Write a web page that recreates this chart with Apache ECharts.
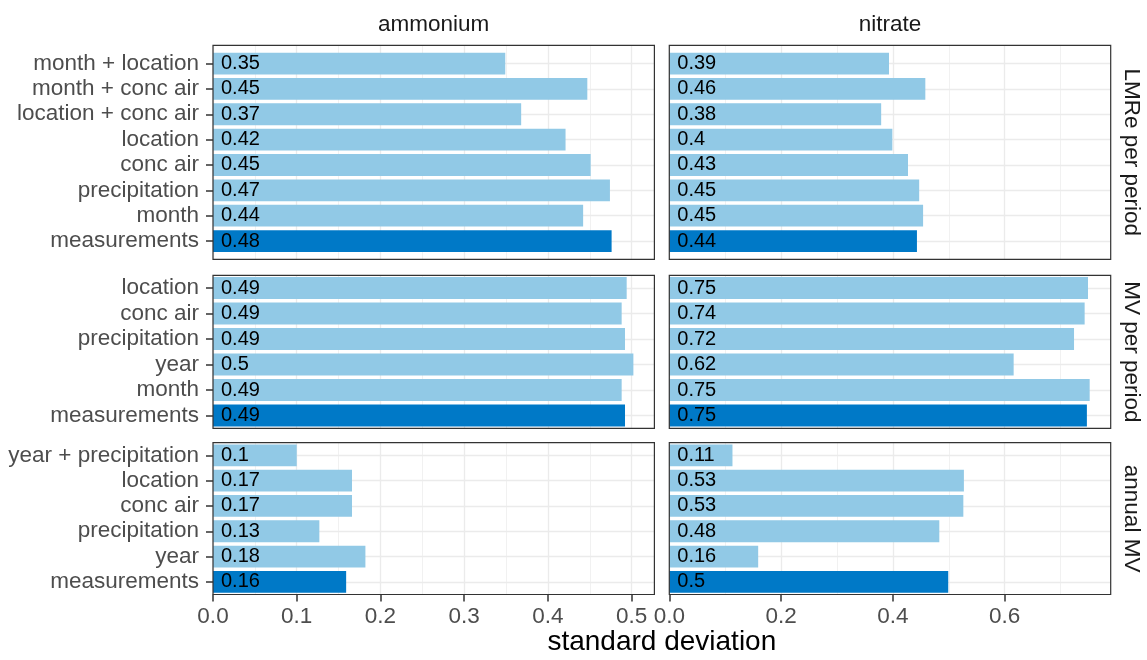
<!DOCTYPE html>
<html><head><meta charset="utf-8">
<script src="https://cdn.jsdelivr.net/npm/echarts@6/dist/echarts.min.js"></script>
<style>html,body{margin:0;padding:0;background:#fff}#c{width:1147px;height:660px}</style>
</head><body><div id="c"></div>
<script>
// ---- data ----
const columns = ['ammonium', 'nitrate'];
const rowNames = ['LMRe per period', 'MV per period', 'annual MV'];
const catsLMRe = ['month + location', 'month + conc air', 'location + conc air', 'location', 'conc air', 'precipitation', 'month', 'measurements'];
const catsMVperiod = ['location', 'conc air', 'precipitation', 'year', 'month', 'measurements'];
const catsAnnual = ['year + precipitation', 'location', 'conc air', 'precipitation', 'year', 'measurements'];
const ammoniumLMRe = [0.349, 0.447, 0.368, 0.421, 0.451, 0.474, 0.442, 0.476];
const nitrateLMRe = [0.393, 0.458, 0.379, 0.399, 0.427, 0.447, 0.454, 0.443];
const ammoniumMVperiod = [0.494, 0.488, 0.492, 0.502, 0.488, 0.492];
const nitrateMVperiod = [0.749, 0.743, 0.724, 0.616, 0.752, 0.747];
const ammoniumAnnual = [0.1, 0.166, 0.166, 0.127, 0.182, 0.159];
const nitrateAnnual = [0.113, 0.527, 0.526, 0.483, 0.159, 0.499];
const xTicksAmmonium = [0, 0.1, 0.2, 0.3, 0.4, 0.5];
const xTicksNitrate = [0, 0.2, 0.4, 0.6];
const referenceCategory = 'measurements';
const xTitle = 'standard deviation';

// ---- layout / style ----
const FONT = '"Liberation Sans", Arial, Helvetica, sans-serif';
const LIGHT = '#91C9E6', DARK = '#0079C7';
const GRID_COL = '#EBEBEB';
const colLeft = [213, 669.3], colWidth = 441.4;
const rowTop = [45.3, 275.3, 442.7], rowHeight = [214, 153, 151.8];
const rowPad = [0.72, 0.5, 0.5];
const BAR_FRAC = 0.86;

const rowCats = [catsLMRe, catsMVperiod, catsAnnual];
const panelData = [
  [ammoniumLMRe, nitrateLMRe],
  [ammoniumMVperiod, nitrateMVperiod],
  [ammoniumAnnual, nitrateAnnual]
];
const colTicks = [xTicksAmmonium, xTicksNitrate];
const colStep = [0.1, 0.2];
const colMax = [0, 1].map(c => Math.max(...panelData.flatMap(r => r[c])) * 1.05);

const grid = [], xAxis = [], yAxis = [], series = [];
for (let r = 0; r < 3; r++) {
  const cats = rowCats[r];
  const idxs = cats.map((_, i) => i);
  for (let c = 0; c < 2; c++) {
    const gi = r * 2 + c;
    const bottomRow = r === 2;
    grid.push({
      left: colLeft[c], top: rowTop[r], width: colWidth, height: rowHeight[r],
      show: true, borderColor: '#333333', borderWidth: 1.2, backgroundColor: 'transparent', z: 5
    });
    xAxis.push({
      gridIndex: gi, type: 'value', position: 'bottom', min: 0, max: colMax[c], interval: colStep[c],
      axisLine: { show: false, onZero: false },
      axisTick: { show: bottomRow, inside: false, length: 7, lineStyle: { color: '#333333', width: 1.5 }, customValues: colTicks[c] },
      axisLabel: { show: bottomRow, customValues: colTicks[c], margin: 11, color: '#4D4D4D', fontSize: 22.5, fontFamily: FONT,
        formatter: v => v.toFixed(1) },
      splitLine: { show: true, lineStyle: { color: GRID_COL, width: 1.3 } },
      minorTick: { show: false, splitNumber: 2 },
      minorSplitLine: { show: true, lineStyle: { color: GRID_COL, width: 0.7 } }
    });
    yAxis.push({
      gridIndex: gi, type: 'value', position: 'left', inverse: true, min: -rowPad[r], max: cats.length - 1 + rowPad[r],
      axisLine: { show: false, onZero: false },
      axisTick: { show: c === 0, inside: false, length: 7, lineStyle: { color: '#333333', width: 1.5 }, customValues: idxs },
      axisLabel: { show: c === 0, customValues: idxs, margin: 14, color: '#4D4D4D', fontSize: 22.5, fontFamily: FONT,
        formatter: v => cats[Math.round(v)] },
      splitLine: { show: true, lineStyle: { color: GRID_COL, width: 1.3 } }
    });
    series.push({
      type: 'custom', xAxisIndex: gi, yAxisIndex: gi, clip: false, z: 2,
      data: panelData[r][c].map((v, i) => [v, i]),
      renderItem: (params, api) => {
        const v = api.value(0), i = api.value(1);
        const p0 = api.coord([0, i]);
        const p1 = api.coord([v, i]);
        const h = api.size([0, 1])[1] * BAR_FRAC;
        const color = cats[i] === referenceCategory ? DARK : LIGHT;
        return {
          type: 'group',
          children: [
            { type: 'rect', shape: { x: p0[0], y: p0[1] - h / 2, width: p1[0] - p0[0], height: h }, style: { fill: color } },
            { type: 'text', style: { text: String(Math.round(v * 100) / 100), x: p0[0] + 8, y: p0[1],
                verticalAlign: 'middle', align: 'left', fill: '#000', font: '20px ' + FONT } }
          ]
        };
      }
    });
  }
}

const graphic = [];
columns.forEach((name, c) => {
  graphic.push({ type: 'text', x: colLeft[c] + colWidth / 2, y: 25,
    style: { text: name, align: 'center', verticalAlign: 'middle', fill: '#1A1A1A', font: '22.5px ' + FONT } });
});
rowNames.forEach((name, r) => {
  graphic.push({ type: 'text', x: 1131, y: rowTop[r] + rowHeight[r] / 2, rotation: -Math.PI / 2,
    style: { text: name, align: 'center', verticalAlign: 'middle', fill: '#1A1A1A', font: '22.5px ' + FONT } });
});
graphic.push({ type: 'text', x: (colLeft[0] + colLeft[1] + colWidth) / 2, y: 642,
  style: { text: xTitle, align: 'center', verticalAlign: 'middle', fill: '#000', font: '28px ' + FONT } });

const chart = echarts.init(document.getElementById('c'), null, { renderer: 'canvas' });
chart.setOption({ animation: false, backgroundColor: '#fff', grid, xAxis, yAxis, series, graphic });
</script></body></html>
